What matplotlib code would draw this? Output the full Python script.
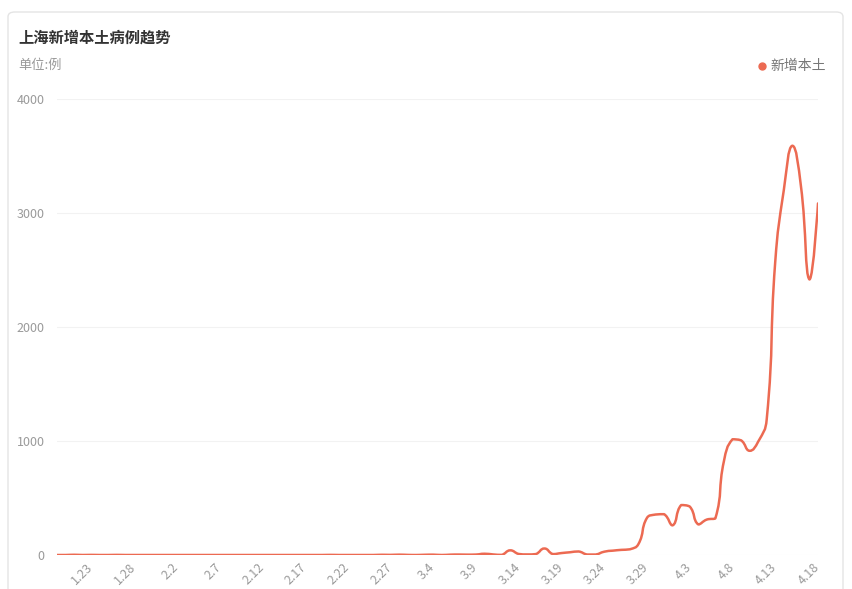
import numpy as np
import pandas as pd
import matplotlib
matplotlib.use("Agg")
import matplotlib.pyplot as plt
import matplotlib.transforms as mtransforms
from matplotlib.path import Path
from matplotlib.patches import PathPatch, FancyBboxPatch

plt.rcParams['font.family'] = ['Noto Sans CJK SC', 'DejaVu Sans']

# Daily new local cases, 1.19 - 4.18
jan = [0, 0, 2, 0, 1, 0, 0, 1, 0, 0, 0, 0, 0]                      # 1.19-1.31
feb = [0, 0, 0, 0, 0, 0, 0, 0, 0, 0, 0, 0, 0, 0,
       0, 0, 0, 0, 0, 1, 0, 0, 0, 0, 0, 2, 1, 3]                    # 2.1-2.28
mar = [1, 0, 2, 3, 0, 3, 4, 3, 4, 11, 5, 1, 41, 9, 5, 8,
       57, 8, 17, 24, 31, 4, 4, 29, 38, 45, 50, 96, 326, 355, 358]  # 3.1-3.31
apr = [260, 438, 425, 268, 311, 322, 824, 1015, 1006, 914,
       994, 1189, 2573, 3200, 3590, 3238, 2417, 3084]               # 4.1-4.18
values = jan + feb + mar + apr
dates = pd.date_range("2022-01-19", periods=len(values), freq="D")
labels = [f"{d.month}.{d.day}" for d in dates]
tick_idx = list(range(4, len(values), 5))

series_name = "新增本土"
title = "上海新增本土病例趋势"
unit = "单位:例"
line_color = "#ec6a52"


def smooth_path(xs, ys, sx, sy, smooth=0.5):
    # echarts-style bezier smoothing, distances measured in pixel-ish units
    n = len(xs)
    px = np.asarray(xs, float) * sx
    py = np.asarray(ys, float) * sy
    cp_in = [(px[0], py[0])] * n
    cp_out = [(px[0], py[0])] * n
    for i in range(n):
        if i == 0 or i == n - 1:
            cp_in[i] = cp_out[i] = (px[i], py[i])
            continue
        dx = px[i + 1] - px[i - 1]
        dy = py[i + 1] - py[i - 1]
        l0 = np.hypot(px[i] - px[i - 1], py[i] - py[i - 1])
        l1 = np.hypot(px[i + 1] - px[i], py[i + 1] - py[i])
        r = l1 / (l0 + l1) if l0 + l1 > 0 else 0.5
        ix = px[i] - dx * smooth * (1 - r)
        iy = py[i] - dy * smooth * (1 - r)
        ox = px[i] + dx * smooth * r
        oy = py[i] + dy * smooth * r
        ix = min(max(ix, min(px[i - 1], px[i])), max(px[i - 1], px[i]))
        iy = min(max(iy, min(py[i - 1], py[i])), max(py[i - 1], py[i]))
        ox = min(max(ox, min(px[i + 1], px[i])), max(px[i + 1], px[i]))
        oy = min(max(oy, min(py[i + 1], py[i])), max(py[i + 1], py[i]))
        cp_in[i] = (ix, iy)
        cp_out[i] = (ox, oy)
    verts = [(px[0], py[0])]
    codes = [Path.MOVETO]
    for i in range(n - 1):
        verts += [cp_out[i], cp_in[i + 1], (px[i + 1], py[i + 1])]
        codes += [Path.CURVE4] * 3
    verts = [(x / sx, y / sy) for x, y in verts]
    return Path(verts, codes)


fig = plt.figure(figsize=(8.52, 5.89), dpi=100)
fig.patch.set_facecolor("white")

card = FancyBboxPatch((8 / 852, -0.05), 835 / 852, (589 - 12) / 589 + 0.05,
                      boxstyle="round,pad=0,rounding_size=0.008",
                      transform=fig.transFigure, facecolor="white",
                      edgecolor="#e4e4e4", linewidth=1.0, zorder=-5)
fig.patches.append(card)

ax = fig.add_axes([57 / 852, 1 - 555 / 589, (818 - 57) / 852, (555 - 99) / 589])
ax.set_facecolor("none")
ax.set_zorder(2)

x = np.arange(len(values))
path = smooth_path(x, values, 8.55, 0.114)
ax.add_patch(PathPatch(path, fill=False, edgecolor=line_color, linewidth=1.8,
                       capstyle="round", joinstyle="round", zorder=3))

ax.set_xlim(0, len(values) - 1)
ax.set_ylim(0, 4000)
ax.set_yticks([0, 1000, 2000, 3000, 4000])
ax.set_yticklabels(["0", "1000", "2000", "3000", "4000"])
ax.set_xticks(tick_idx)
ax.set_xticklabels([labels[i] for i in tick_idx], rotation=45, ha="right",
                   va="top", rotation_mode="anchor")
ax.tick_params(axis="both", length=0, colors="#9a9a9a", labelsize=9)
ax.tick_params(axis="y", pad=9)
ax.tick_params(axis="x", pad=4)
shift = mtransforms.ScaledTranslation(-5 / 100, 0, fig.dpi_scale_trans)
for lab in ax.get_xticklabels():
    lab.set_transform(lab.get_transform() + shift)
ax.grid(axis="y", color="#f2f2f2", linewidth=0.8)
ax.set_axisbelow(True)
for s in ax.spines.values():
    s.set_visible(False)

fig.text(18 / 852, 1 - 38 / 589, title, fontsize=11, fontweight="bold",
         color="#333333", va="center", ha="left")
fig.text(18 / 852, 1 - 65 / 589, unit, fontsize=9.5, color="#999999",
         va="center", ha="left")
fig.text(826 / 852, 1 - 66 / 589, series_name, fontsize=10, color="#777777",
         va="center", ha="right")
fig.lines.append(plt.Line2D([762 / 852], [1 - 66 / 589], marker="o",
                            markersize=5, color=line_color,
                            transform=fig.transFigure))

fig.savefig("out.png", dpi=100)
